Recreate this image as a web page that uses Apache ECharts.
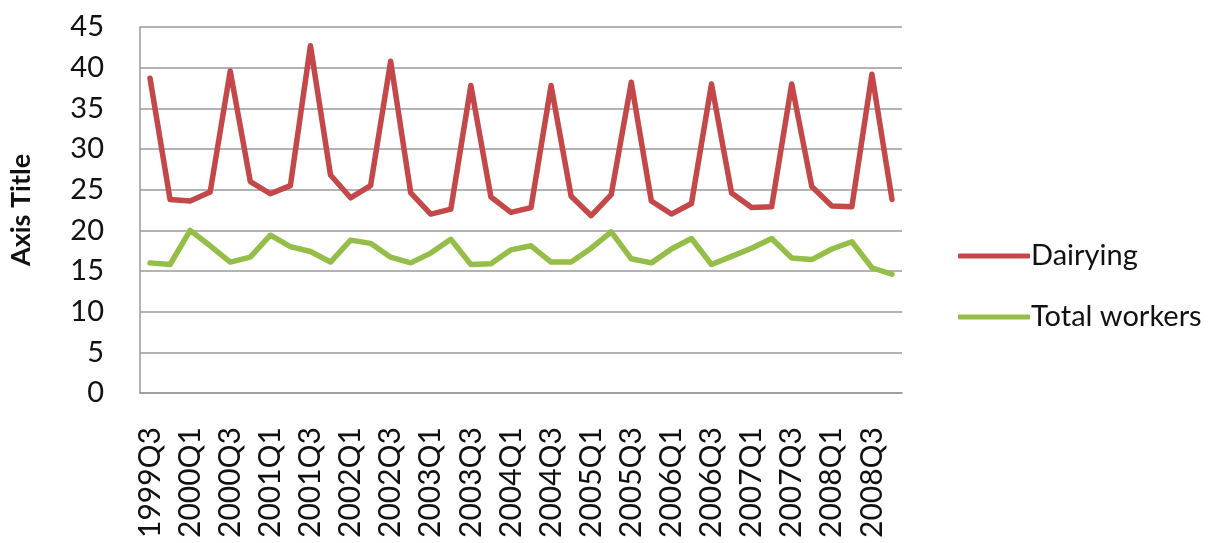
<!DOCTYPE html>
<html>
<head>
<meta charset="utf-8">
<title>Dairying vs Total workers</title>
<script src="https://cdn.jsdelivr.net/npm/echarts@6/dist/echarts.min.js"></script>
<style>
  html, body { margin: 0; padding: 0; background: #ffffff; }
  #chart { width: 1225px; height: 543px; }
</style>
</head>
<body>
<div id="chart"></div>
<script>
// Quarterly categories
const quarters = [
  '1999Q3', '1999Q4',
  '2000Q1', '2000Q2', '2000Q3', '2000Q4',
  '2001Q1', '2001Q2', '2001Q3', '2001Q4',
  '2002Q1', '2002Q2', '2002Q3', '2002Q4',
  '2003Q1', '2003Q2', '2003Q3', '2003Q4',
  '2004Q1', '2004Q2', '2004Q3', '2004Q4',
  '2005Q1', '2005Q2', '2005Q3', '2005Q4',
  '2006Q1', '2006Q2', '2006Q3', '2006Q4',
  '2007Q1', '2007Q2', '2007Q3', '2007Q4',
  '2008Q1', '2008Q2', '2008Q3', '2008Q4'
];

// Series values
const dairying = [
  38.7, 23.8,
  23.6, 24.7, 39.6, 26.0,
  24.5, 25.5, 42.7, 26.8,
  24.0, 25.5, 40.8, 24.6,
  22.0, 22.6, 37.8, 24.1,
  22.2, 22.8, 37.8, 24.2,
  21.8, 24.4, 38.2, 23.6,
  22.0, 23.3, 38.0, 24.6,
  22.8, 22.9, 38.0, 25.4,
  23.0, 22.9, 39.2, 23.8
];

const totalWorkers = [
  16.0, 15.8,
  20.0, 18.1, 16.1, 16.7,
  19.4, 18.0, 17.4, 16.1,
  18.8, 18.4, 16.7, 16.0,
  17.2, 18.9, 15.8, 15.9,
  17.6, 18.1, 16.1, 16.1,
  17.8, 19.8, 16.5, 16.0,
  17.7, 19.0, 15.8, 16.8,
  17.8, 19.0, 16.6, 16.4,
  17.7, 18.6, 15.4, 14.6
];

// Value axis ticks
const yMin = 0;
const yMax = 45;
const yStep = 5;

const FONT = 'Lato, "Liberation Sans", sans-serif';
const TEXT = '#111111';
const RED = '#C4484A';
const GREEN = '#94BE47';

const chart = echarts.init(document.getElementById('chart'), null, { renderer: 'canvas' });

chart.setOption({
  animation: false,
  backgroundColor: '#ffffff',
  grid: { left: 138, right: 323, top: 27, bottom: 150, containLabel: false },
  legend: {
    orient: 'vertical',
    left: 953,
    top: 236,
    itemWidth: 72,
    itemHeight: 5,
    itemGap: 31,
    icon: 'roundRect',
    textStyle: { fontFamily: FONT, fontSize: 29, color: TEXT, lineHeight: 30, padding: [0, 0, 0, -4] },
    data: ['Dairying', 'Total workers']
  },
  xAxis: {
    type: 'category',
    data: quarters,
    boundaryGap: true,
    axisLine: { show: true, lineStyle: { color: '#9a9a9a', width: 1.5 } },
    axisTick: { show: false },
    axisLabel: {
      interval: 1,
      rotate: 90,
      margin: 34,
      fontFamily: FONT,
      fontSize: 30,
      color: TEXT
    },
    splitLine: { show: false }
  },
  yAxis: {
    type: 'value',
    min: yMin,
    max: yMax,
    interval: yStep,
    name: 'Axis Title',
    nameLocation: 'middle',
    nameRotate: 90,
    nameGap: 105,
    nameTextStyle: { fontFamily: FONT, fontSize: 27, fontWeight: 'bold', color: TEXT },
    axisLine: { show: true, lineStyle: { color: '#9a9a9a', width: 1.5 } },
    axisTick: { show: false },
    axisLabel: { margin: 36, fontFamily: FONT, fontSize: 29, color: TEXT },
    splitLine: { show: true, lineStyle: { color: '#9a9a9a', width: 1.5 } }
  },
  series: [
    {
      name: 'Dairying',
      type: 'line',
      data: dairying,
      symbol: 'none',
      color: RED,
      lineStyle: { color: RED, width: 5.5, join: 'round', cap: 'round' }
    },
    {
      name: 'Total workers',
      type: 'line',
      data: totalWorkers,
      symbol: 'none',
      color: GREEN,
      lineStyle: { color: GREEN, width: 5.5, join: 'round', cap: 'round' }
    }
  ]
});
</script>
</body>
</html>
